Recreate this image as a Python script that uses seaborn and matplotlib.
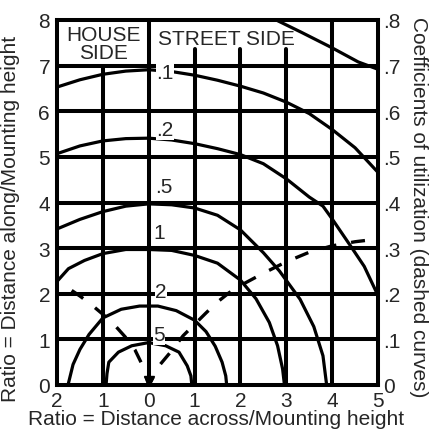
import matplotlib
matplotlib.use("Agg")
import matplotlib.pyplot as plt
import seaborn as sns

# ---- isofootcandle curves (distance across, distance along), in mounting heights
fc_05_x = [2.6, 2.78, 3.33, 3.98, 4.57, 5.0]
fc_05_y = [8.1, 8.0, 7.73, 7.4, 7.08, 6.92]

fc_1_x = [-2.0, -1.5, -1.0, -0.5, 0.0, 0.5, 1.0, 1.5, 2.0, 2.5, 3.0, 3.5, 4.0, 4.5, 5.0]
fc_1_y = [6.53, 6.69, 6.81, 6.88, 6.91, 6.87, 6.79, 6.68, 6.55, 6.4, 6.2, 5.95, 5.6, 5.2, 4.66]

fc_2_x = [-2.0, -1.5, -1.0, -0.5, 0.0, 0.5, 1.0, 1.5, 2.0, 2.5, 3.0, 3.5, 3.8, 4.0, 4.4, 4.7, 5.0]
fc_2_y = [5.07, 5.24, 5.35, 5.40, 5.41, 5.37, 5.29, 5.18, 5.05, 4.85, 4.52, 4.12, 3.92, 3.64, 3.05, 2.6, 1.96]

fc_5_x = [-2.0, -1.5, -1.0, -0.5, 0.0, 0.5, 1.0, 1.5, 2.0, 2.5, 2.85, 3.3, 3.6, 3.8, 3.88]
fc_5_y = [3.42, 3.63, 3.80, 3.92, 3.97, 3.95, 3.88, 3.72, 3.40, 2.90, 2.50, 1.88, 1.28, 0.64, 0.0]

fc_10_x = [-2.0, -1.75, -1.4, -1.0, -0.5, 0.0, 0.5, 1.0, 1.5, 2.0, 2.34, 2.63, 2.81, 2.92, 2.96]
fc_10_y = [2.27, 2.55, 2.73, 2.88, 2.97, 2.97, 2.95, 2.84, 2.67, 2.3, 1.89, 1.37, 0.86, 0.35, 0.0]

fc_20_x = [-1.76, -1.65, -1.5, -1.3, -1.0, -0.6, -0.2, 0.2, 0.6, 1.0, 1.25, 1.45, 1.6, 1.68, 1.7]
fc_20_y = [0.0, 0.45, 0.78, 1.11, 1.47, 1.66, 1.73, 1.73, 1.63, 1.42, 1.17, 0.85, 0.5, 0.2, 0.0]

fc_50_x = [-0.93, -0.91, -0.87, -0.66, -0.37, 0.0, 0.37, 0.66, 0.84, 0.92, 0.94]
fc_50_y = [0.0, 0.25, 0.5, 0.72, 0.86, 0.93, 0.86, 0.72, 0.42, 0.2, 0.0]

# ---- curve labels (footcandles)
fc_labels = [".1", ".2", ".5", "1", "2", "5"]
fc_label_x = [0.35, 0.35, 0.33, 0.22, 0.26, 0.22]
fc_label_y = [6.84, 5.59, 4.34, 3.35, 2.06, 1.10]

# ---- coefficients of utilization (dashed curves)
cu_street_x = [0.0, 0.25, 0.5, 0.75, 1.0, 1.25, 1.5, 1.75, 2.0, 2.5, 3.0, 3.5, 4.0, 4.5, 5.0]
cu_street = [0.0, 0.045, 0.075, 0.108, 0.133, 0.158, 0.182, 0.202, 0.218, 0.245, 0.27, 0.291, 0.305, 0.314, 0.32]

cu_house_x = [0.0, -0.15, -0.3, -0.5, -0.75, -1.0, -1.25, -1.5, -1.75]
cu_house = [0.0, 0.046, 0.077, 0.104, 0.132, 0.155, 0.176, 0.195, 0.212]

# ---- axis ticks
x_ticks = [-2, -1, 0, 1, 2, 3, 4, 5]
x_tick_labels = ["2", "1", "0", "1", "2", "3", "4", "5"]
y_ticks = [0, 1, 2, 3, 4, 5, 6, 7, 8]
cu_ticks = [0.0, 0.1, 0.2, 0.3, 0.4, 0.5, 0.6, 0.7, 0.8]
cu_tick_labels = ["0", ".1", ".2", ".3", ".4", ".5", ".6", ".7", ".8"]

sns.set_style("white")
plt.rcParams["font.family"] = ["Liberation Sans", "DejaVu Sans"]
plt.rcParams["lines.scale_dashes"] = False
FS = 15
INK = "black"
GRID_LW = 2.9
CURVE_LW = 2.3

fig = plt.figure(figsize=(4.29, 4.35), dpi=100)
ax = fig.add_axes([57 / 429, 1 - 386 / 435, (378 - 57) / 429, (386 - 21) / 435])
ax.set_xlim(-2, 5)
ax.set_ylim(0, 8)

# grid: full horizontals, verticals stopping under the side captions
for y in range(1, 8):
    ax.axhline(y, color=INK, lw=GRID_LW, zorder=1)
vertical_tops = {-1: 7.0, 0: 8.0, 1: 7.36, 2: 7.36, 3: 7.36, 4: 8.0}
for x, top in vertical_tops.items():
    ax.axvline(x, ymin=0, ymax=top / 8, color=INK, lw=GRID_LW, zorder=1)

for xs, ys in [(fc_05_x, fc_05_y), (fc_1_x, fc_1_y), (fc_2_x, fc_2_y),
               (fc_5_x, fc_5_y), (fc_10_x, fc_10_y), (fc_20_x, fc_20_y),
               (fc_50_x, fc_50_y)]:
    sns.lineplot(x=xs, y=ys, ax=ax, sort=False, estimator=None,
                 color=INK, lw=CURVE_LW, zorder=2)

for lab, lx, ly in zip(fc_labels, fc_label_x, fc_label_y):
    ax.text(lx, ly, lab, fontsize=FS, ha="center", va="center", zorder=3,
            bbox=dict(facecolor="white", edgecolor="none", pad=0.2))

# luminaire position
ax.plot([0], [0.09], marker="v", color=INK, markersize=7, zorder=4, clip_on=False)

ax.text(-0.98, 7.48, "HOUSE\nSIDE", fontsize=FS, ha="center", va="center",
        linespacing=0.95, zorder=3)
ax.text(1.69, 7.59, "STREET SIDE", fontsize=FS, ha="center", va="center", zorder=3)

ax.set_xticks(x_ticks)
ax.set_xticklabels(x_tick_labels)
ax.set_yticks(y_ticks)
ax.tick_params(axis="x", length=0, pad=4, labelsize=FS)
ax.tick_params(axis="y", length=0, pad=5, labelsize=FS)
for s in ax.spines.values():
    s.set_linewidth(GRID_LW)
    s.set_color(INK)
    s.set_zorder(5)

ax.set_xlabel("Ratio = Distance across/Mounting height", fontsize=FS)
ax.set_ylabel("Ratio = Distance along/Mounting height", fontsize=FS)
ax.xaxis.set_label_coords(0.497, -0.066)
ax.yaxis.set_label_coords(-0.115, 0.4575)

# right axis: coefficients of utilization
ax2 = ax.twinx()
ax2.set_ylim(0, 0.8)
ax2.set_yticks(cu_ticks)
ax2.set_yticklabels(cu_tick_labels)
ax2.tick_params(axis="y", length=0, pad=4, labelsize=FS)
for s in ax2.spines.values():
    s.set_visible(False)

dash = (3.6, (10.1, 10.8))
for xs, ys in [(cu_street_x, cu_street), (cu_house_x, cu_house)]:
    sns.lineplot(x=xs, y=ys, ax=ax2, sort=False, estimator=None,
                 color=INK, lw=2.4)
    ax2.lines[-1].set_linestyle(dash)

ax2.set_ylabel("Coefficients of utilization (dashed curves)", fontsize=FS,
               rotation=270, va="center", ha="center")
ax2.yaxis.set_label_coords(1.125, 0.49)

fig.savefig("out.png", dpi=100, facecolor="white")
